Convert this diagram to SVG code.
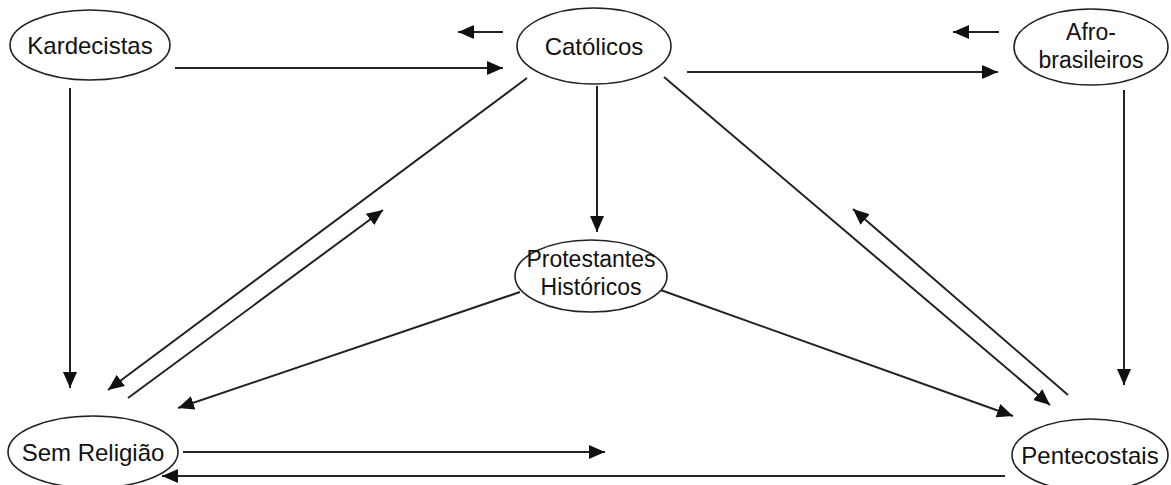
<svg xmlns="http://www.w3.org/2000/svg" width="1171" height="485" viewBox="0 0 1171 485">
<style>
.node ellipse{fill:#fff;stroke:#222;stroke-width:1.6}
.node text{font-family:"Liberation Sans",Arial,sans-serif;font-size:24px;fill:#111;text-anchor:middle}
.node text.two{font-size:23px}
.conn line{stroke:#222;stroke-width:2;fill:none}
</style>
<defs>
<marker id="ah" markerUnits="userSpaceOnUse" markerWidth="18" markerHeight="14" refX="16" refY="7" orient="auto">
<path d="M0,0 L16,7 L0,14 Z" fill="#111"/>
</marker>
</defs>
<rect width="1171" height="485" fill="#fff"/>
<g id="connectors" class="conn">
<line x1="503" y1="32" x2="458" y2="32" marker-end="url(#ah)"/>
<line x1="175" y1="68" x2="503" y2="68" marker-end="url(#ah)"/>
<line x1="999" y1="32" x2="953" y2="32" marker-end="url(#ah)"/>
<line x1="687" y1="72" x2="998" y2="72" marker-end="url(#ah)"/>
<line x1="70" y1="88" x2="70" y2="388" marker-end="url(#ah)"/>
<line x1="1124" y1="90" x2="1124" y2="385" marker-end="url(#ah)"/>
<line x1="597" y1="86" x2="597" y2="232" marker-end="url(#ah)"/>
<line x1="527" y1="78" x2="108" y2="390" marker-end="url(#ah)"/>
<line x1="128" y1="398" x2="383" y2="210" marker-end="url(#ah)"/>
<line x1="664" y1="77" x2="1050" y2="405" marker-end="url(#ah)"/>
<line x1="1068" y1="395" x2="853" y2="209" marker-end="url(#ah)"/>
<line x1="520" y1="292" x2="178" y2="408" marker-end="url(#ah)"/>
<line x1="655" y1="288" x2="1013" y2="416" marker-end="url(#ah)"/>
<line x1="183" y1="452" x2="605" y2="452" marker-end="url(#ah)"/>
<line x1="1005" y1="476" x2="162" y2="476" marker-end="url(#ah)"/>
</g>
<g id="kardecistas" class="node"><ellipse cx="90" cy="45" rx="80" ry="35"/><text x="90" y="54">Kardecistas</text></g>
<g id="catolicos" class="node"><ellipse cx="594" cy="46" rx="77" ry="38"/><text x="594" y="55">Católicos</text></g>
<g id="afro" class="node"><ellipse cx="1091" cy="47" rx="77" ry="38"/><text class="two" x="1091" y="40">Afro-</text><text class="two" x="1091" y="68">brasileiros</text></g>
<g id="protestantes" class="node"><ellipse cx="591" cy="276" rx="76" ry="36"/><text class="two" x="591" y="267">Protestantes</text><text class="two" x="591" y="295">Históricos</text></g>
<g id="semreligiao" class="node"><ellipse cx="93" cy="452" rx="85" ry="36"/><text x="93" y="461">Sem Religião</text></g>
<g id="pentecostais" class="node"><ellipse cx="1090" cy="455" rx="78" ry="36"/><text x="1090" y="464">Pentecostais</text></g>
</svg>
